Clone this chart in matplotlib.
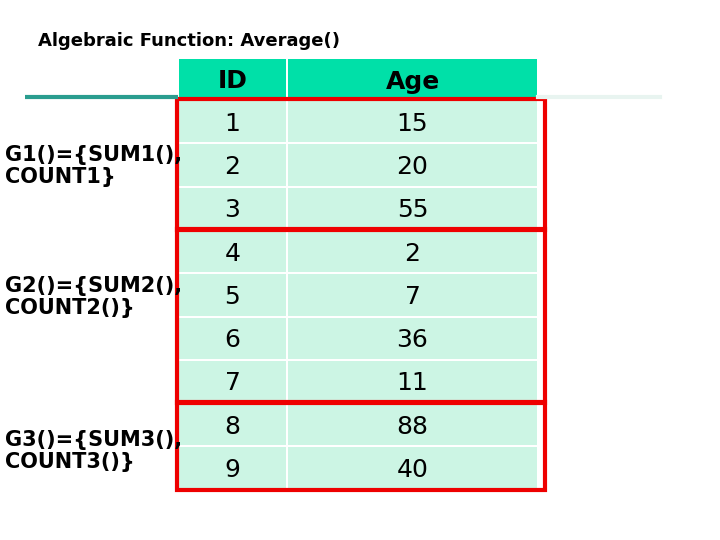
import matplotlib.pyplot as plt
from matplotlib.patches import Rectangle

TITLE = "Algebraic Function: Average()"
HEADERS = ["ID", "Age"]
IDS = [1, 2, 3, 4, 5, 6, 7, 8, 9]
AGES = [15, 20, 55, 2, 7, 36, 11, 88, 40]
GROUP_LABELS = ["G1()={SUM1(),\nCOUNT1}", "G2()={SUM2(),\nCOUNT2()}", "G3()={SUM3(),\nCOUNT3()}"]
GROUP_ROWS = [(0, 3), (3, 7), (7, 9)]
GROUP_LABEL_Y = [166, 297, 451]

HEADER_COLOR = "#00e0a8"
ROW_COLOR = "#ccf5e4"

fig = plt.figure(figsize=(7.2, 5.4), dpi=100)
ax = fig.add_axes([0, 0, 1, 1])
ax.set_xlim(0, 720)
ax.set_ylim(540, 0)
ax.axis("off")

col_x = [178, 287, 538]
header_top, header_h = 59, 41
row_top, row_h = 100, 43.3

ax.text(38, 41, TITLE, fontsize=13, fontweight="bold", va="center")
# underline bar left of the table
ax.plot([25, 178], [97, 97], color="#2a9d8f", lw=3, solid_capstyle="butt")
ax.plot([538, 660], [97, 97], color="#e8f4f0", lw=3)

# header
for i, h in enumerate(HEADERS):
    ax.add_patch(Rectangle((col_x[i] + 1, header_top), col_x[i + 1] - col_x[i] - 2, header_h,
                           facecolor=HEADER_COLOR, edgecolor="none"))
    ax.text((col_x[i] + col_x[i + 1]) / 2, header_top + header_h / 2 + 2, h,
            fontsize=18, fontweight="bold", ha="center", va="center")

# body rows
for r, (id_, age) in enumerate(zip(IDS, AGES)):
    y = row_top + r * row_h
    for c, val in enumerate([id_, age]):
        ax.add_patch(Rectangle((col_x[c] + 1, y + 1), col_x[c + 1] - col_x[c] - 2, row_h - 2,
                               facecolor=ROW_COLOR, edgecolor="none"))
        ax.text((col_x[c] + col_x[c + 1]) / 2, y + row_h / 2 + 2, str(val),
                fontsize=18, ha="center", va="center")

# group outlines and labels
for (start, end), label, ly in zip(GROUP_ROWS, GROUP_LABELS, GROUP_LABEL_Y):
    y0 = row_top + start * row_h - 1
    y1 = row_top + end * row_h
    ax.add_patch(Rectangle((177, y0), 368, y1 - y0, facecolor="none",
                           edgecolor="#ee0000", lw=3))
    ax.text(5, ly, label, fontsize=15, fontweight="bold", va="center", linespacing=1.15,
            zorder=5)

fig.savefig("out.png", dpi=100)
